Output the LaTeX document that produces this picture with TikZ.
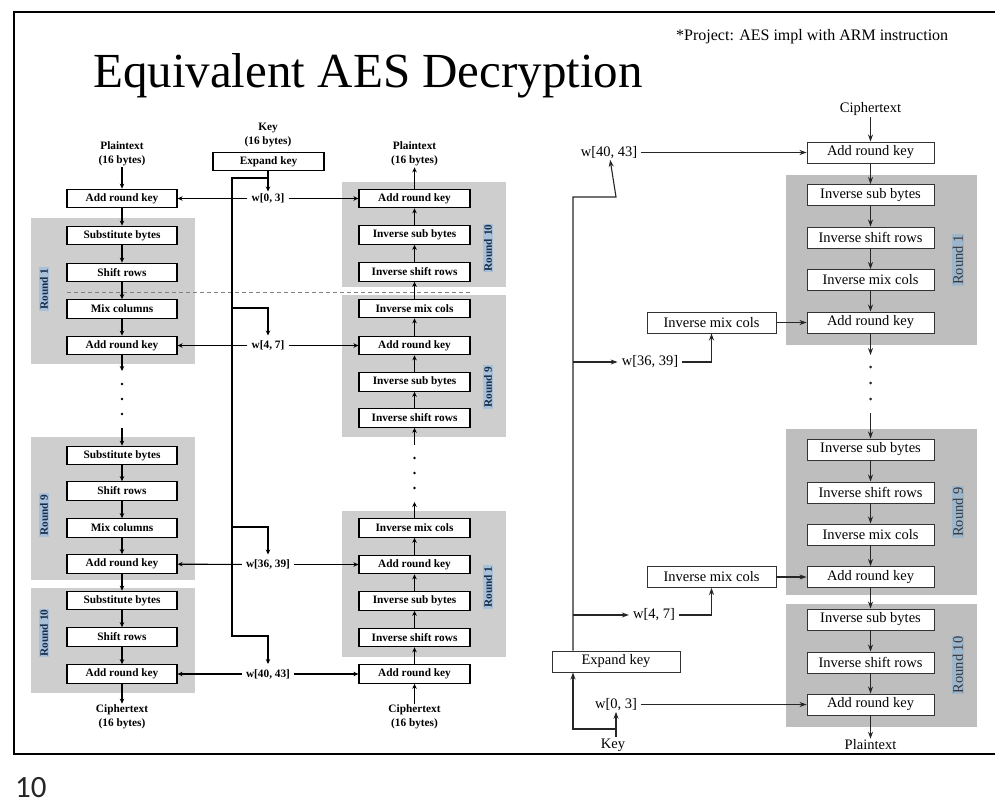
\documentclass[tikz,border=0pt]{standalone}
\usepackage{fontspec}
\setmainfont{Liberation Serif}
\newfontfamily\numfont{Carlito}
\usetikzlibrary{arrows.meta}
\definecolor{lgray}{RGB}{206,206,206}
\definecolor{rgray}{RGB}{190,190,190}
\definecolor{lblue}{RGB}{168,193,217}
\definecolor{lnavy}{RGB}{25,45,75}
\definecolor{rblue}{RGB}{158,182,204}
\definecolor{rtext}{RGB}{55,55,60}
\tikzset{
 lfnt/.style={font=\fontsize{11.3}{14}\selectfont\bfseries},
 rfnt/.style={font=\fontsize{14.5}{16}\selectfont},
 lbox/.style={draw, line width=1.2pt, fill=white, minimum width=110pt, minimum height=18.5pt, inner sep=0pt, lfnt},
 rbox/.style={draw=black!80, line width=0.9pt, fill=white, minimum width=127pt, minimum height=21pt, inner sep=0pt, rfnt},
 ltext/.style={lfnt, align=center, inner sep=1pt},
 rtxt/.style={rfnt, inner sep=1pt},
 wl/.style={lfnt, inner xsep=4pt, inner ysep=2pt},
 wr/.style={rfnt, inner xsep=4pt, inner ysep=1pt},
 larr/.style={-{Stealth[length=5pt,width=4.5pt]}, line width=1.1pt},
 rarr/.style={-{Stealth[length=7pt,width=5pt]}, line width=1.1pt, draw=black!85},
 lround/.style={rotate=90, fill=lblue, text=lnavy, lfnt, inner xsep=1pt, inner ysep=1.5pt},
 rround/.style={rotate=90, fill=rblue, text=rtext, rfnt, inner xsep=1pt, inner ysep=1pt},
}
\begin{document}
\begin{tikzpicture}[x=1pt,y=-1pt]
\useasboundingbox (0,0) rectangle (995,805);
% frame
\draw[line width=2.6pt] (996,12) -- (14,12) -- (14,754) -- (996,754);
\node[anchor=base, font=\fontsize{49}{52}\selectfont] (title) at (368,88) {Equivalent AES Decryption};
\node[anchor=base west, font=\fontsize{16}{18}\selectfont, inner sep=0pt] (proj) at (676,41) {*Project: AES impl with ARM instruction};
\node[anchor=base west, font=\numfont\fontsize{31}{33}\selectfont, text=black!85, inner sep=0pt] (pg) at (15,797) {10};

% ===== left: encryption =====
\fill[lgray] (31,218) rectangle (195,364);
\fill[lgray] (31,437) rectangle (195,580);
\fill[lgray] (31,588) rectangle (195,693);
% ===== middle: decryption =====
\fill[lgray] (342,182) rectangle (506,287);
\fill[lgray] (342,295) rectangle (506,437);
\fill[lgray] (342,511) rectangle (506,657);
\draw[gray, line width=1pt, dash pattern=on 4pt off 3pt] (67,292) -- (470,292);

\node[ltext] (ptL) at (122,154) {Plaintext\\(16 bytes)};
\node[lbox] (L0) at (122,198.5) {Add round key};
\node[lbox] (L1a) at (122,235.5) {Substitute bytes};
\node[lbox] (L1b) at (122,272.5) {Shift rows};
\node[lbox] (L1c) at (122,309) {Mix columns};
\node[lbox] (L1d) at (122,345.5) {Add round key};
\node[lbox] (L9a) at (122,455.5) {Substitute bytes};
\node[lbox] (L9b) at (122,491) {Shift rows};
\node[lbox] (L9c) at (122,528) {Mix columns};
\node[lbox] (L9d) at (122,564) {Add round key};
\node[lbox] (L10a) at (122,600.5) {Substitute bytes};
\node[lbox] (L10b) at (122,637) {Shift rows};
\node[lbox] (L10c) at (122,674) {Add round key};
\node[ltext] (ctL) at (122,717) {Ciphertext\\(16 bytes)};
\node[lround] (rl1) at (44,289) {Round 1};
\node[lround] (rl9) at (44,515) {Round 9};
\node[lround] (rl10) at (44,633) {Round 10};

\draw[larr] (ptL) -- (L0);
\draw[larr] (L0) -- (L1a);
\draw[larr] (L1a) -- (L1b);
\draw[larr] (L1b) -- (L1c);
\draw[larr] (L1c) -- (L1d);
\coordinate (ldA) at (122,371);
\coordinate (ldB) at (122,428);
\draw[larr] (L1d) -- (ldA);
\fill (122,384) circle (1.4) (122,399) circle (1.4) (122,414) circle (1.4);
\draw[larr] (ldB) -- (L9a);
\draw[larr] (L9a) -- (L9b);
\draw[larr] (L9b) -- (L9c);
\draw[larr] (L9c) -- (L9d);
\draw[larr] (L9d) -- (L10a);
\draw[larr] (L10a) -- (L10b);
\draw[larr] (L10b) -- (L10c);
\draw[larr] (L10c) -- (ctL);

% key column
\node[ltext] (keyL) at (268,135.5) {Key\\(16 bytes)};
\node[lbox, minimum width=111pt] (ekL) at (268.5,161.5) {Expand key};
\node[wl] (w03) at (268,198.5) {w[0, 3]};
\node[wl] (w47) at (268,345.5) {w[4, 7]};
\node[wl] (w3639) at (268,564.5) {w[36, 39]};
\node[wl] (w4043) at (268,674) {w[40, 43]};
\draw[larr] (ekL.south -| w03) -- (w03);
\coordinate (tk0) at (268,178);
\coordinate (tk1) at (232,308);
\coordinate (tk2) at (232,527);
\coordinate (tk3) at (232,636);
\draw[larr, shorten >=3pt] (tk0) -- (tk0 -| tk3) -- (tk3) -| (w4043);
\draw[larr, shorten >=3pt] (tk1) -| (w47);
\draw[larr, shorten >=3pt] (tk2) -| (w3639);

% middle column
\node[ltext] (ptM) at (414.5,154) {Plaintext\\(16 bytes)};
\node[lbox, minimum width=111pt] (M10a) at (414.5,198.5) {Add round key};
\node[lbox, minimum width=111pt] (M10b) at (414.5,235) {Inverse sub bytes};
\node[lbox, minimum width=111pt] (M10c) at (414.5,272) {Inverse shift rows};
\node[lbox, minimum width=111pt] (M9a) at (414.5,308.5) {Inverse mix cols};
\node[lbox, minimum width=111pt] (M9b) at (414.5,345.5) {Add round key};
\node[lbox, minimum width=111pt] (M9c) at (414.5,382) {Inverse sub bytes};
\node[lbox, minimum width=111pt] (M9d) at (414.5,418) {Inverse shift rows};
\node[lbox, minimum width=111pt] (M1a) at (414.5,528) {Inverse mix cols};
\node[lbox, minimum width=111pt] (M1b) at (414.5,564.5) {Add round key};
\node[lbox, minimum width=111pt] (M1c) at (414.5,601) {Inverse sub bytes};
\node[lbox, minimum width=111pt] (M1d) at (414.5,637.5) {Inverse shift rows};
\node[lbox, minimum width=111pt] (M0) at (414.5,674) {Add round key};
\node[ltext] (ctM) at (414.5,717) {Ciphertext\\(16 bytes)};
\node[lround] (rm10) at (488,248) {Round 10};
\node[lround] (rm9) at (488,387) {Round 9};
\node[lround] (rm1) at (488,587) {Round 1};

\draw[larr] (M10a) -- (ptM);
\draw[larr] (M10b) -- (M10a);
\draw[larr] (M10c) -- (M10b);
\draw[larr] (M9a) -- (M10c);
\draw[larr] (M9b) -- (M9a);
\draw[larr] (M9c) -- (M9b);
\draw[larr] (M9d) -- (M9c);
\coordinate (mdA) at (414.5,445);
\coordinate (mdB) at (414.5,502);
\draw[larr] (mdA) -- (M9d);
\fill (414.5,458) circle (1.4) (414.5,473) circle (1.4) (414.5,488) circle (1.4);
\draw[larr] (M1a) -- (mdB);
\draw[larr] (M1b) -- (M1a);
\draw[larr] (M1c) -- (M1b);
\draw[larr] (M1d) -- (M1c);
\draw[larr] (M0) -- (M1d);
\draw[larr] (ctM) -- (M0);

\draw[larr] (w03) -- (L0);
\draw[larr] (w03) -- (M10a);
\draw[larr] (w47) -- (L1d);
\draw[larr] (w47) -- (M9b);
\draw[larr] (w3639) -- (L9d);
\draw[larr] (w3639) -- (M1b);
\draw[larr] (w4043) -- (L10c);
\draw[larr] (w4043) -- (M0);

% ===== right: equivalent decryption =====
\fill[rgray] (786,175) rectangle (977,345);
\fill[rgray] (786,429) rectangle (977,595);
\fill[rgray] (786,604) rectangle (977,727);
\node[rtxt] (ctR) at (870.5,109) {Ciphertext};
\node[rbox] (R0) at (870.5,152.5) {Add round key};
\node[rbox] (R1a) at (870.5,195) {Inverse sub bytes};
\node[rbox] (R1b) at (870.5,237.5) {Inverse shift rows};
\node[rbox] (R1c) at (870.5,280) {Inverse mix cols};
\node[rbox] (R1d) at (870.5,322.5) {Add round key};
\node[rbox] (R9a) at (870.5,449.5) {Inverse sub bytes};
\node[rbox] (R9b) at (870.5,492.5) {Inverse shift rows};
\node[rbox] (R9c) at (870.5,534.5) {Inverse mix cols};
\node[rbox] (R9d) at (870.5,577) {Add round key};
\node[rbox] (R10a) at (870.5,619.5) {Inverse sub bytes};
\node[rbox] (R10b) at (870.5,662.5) {Inverse shift rows};
\node[rbox] (R10c) at (870.5,704.5) {Add round key};
\node[rtxt] (ptR) at (870.5,745) {Plaintext};
\node[rround] (rr1) at (958,260) {Round 1};
\node[rround] (rr9) at (958,512) {Round 9};
\node[rround] (rr10) at (958,665) {Round 10};

\draw[rarr] (ctR) -- (R0);
\draw[rarr] (R0) -- (R1a);
\draw[rarr] (R1a) -- (R1b);
\draw[rarr] (R1b) -- (R1c);
\draw[rarr] (R1c) -- (R1d);
\coordinate (rdA) at (870.5,355);
\coordinate (rdB) at (870.5,413);
\draw[rarr] (R1d) -- (rdA);
\fill[black!85] (870.5,367) circle (1.5) (870.5,383) circle (1.5) (870.5,399) circle (1.5);
\draw[rarr] (rdB) -- (R9a);
\draw[rarr] (R9a) -- (R9b);
\draw[rarr] (R9b) -- (R9c);
\draw[rarr] (R9c) -- (R9d);
\draw[rarr] (R9d) -- (R10a);
\draw[rarr] (R10a) -- (R10b);
\draw[rarr] (R10b) -- (R10c);
\draw[rarr] (R10c) -- (ptR);

\node[rbox, minimum width=129pt] (imc1) at (711.5,322.5) {Inverse mix cols};
\node[rbox, minimum width=129pt] (imc9) at (711.5,577) {Inverse mix cols};
\node[rbox, minimum width=128pt] (ekR) at (616,661.5) {Expand key};
\node[rtxt] (keyR) at (613,745) {Key};
\node[wr] (r03) at (616,704.5) {w[0, 3]};
\node[wr] (r47) at (654,615) {w[4, 7]};
\node[wr] (r3639) at (650,362) {w[36, 39]};
\node[wr] (r4043) at (609,152.5) {w[40, 43]};

\coordinate (trunk) at (573,0);
\coordinate (kb) at (616,729);
\coordinate (tt) at (616,197);
\draw[rarr] (keyR.north -| r03) -- (r03);
\draw[rarr] (kb) -- (kb -| trunk) -- (ekR.south -| trunk);
\draw[rarr] (ekR.north -| trunk) -- (tt -| trunk) -- (tt) -- (r4043);
\draw[rarr] (r3639 -| trunk) -- (r3639);
\draw[rarr] (r47 -| trunk) -- (r47);
\draw[rarr] (r3639) -| (imc1);
\draw[rarr] (r47) -| (imc9);
\draw[rarr] (imc1) -- (R1d);
\draw[rarr] (imc9) -- (R9d);
\draw[rarr] (r4043) -- (R0);
\draw[rarr] (r03) -- (R10c);
\end{tikzpicture}
\end{document}
